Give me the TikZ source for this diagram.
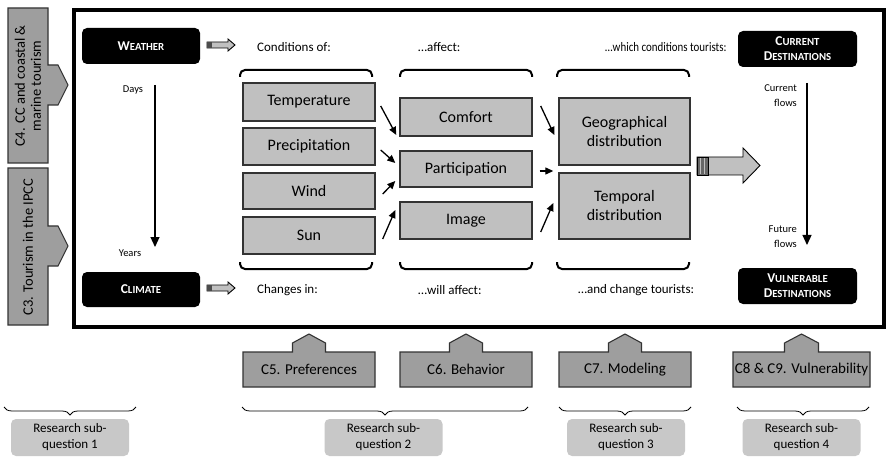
\documentclass[tikz,border=0pt]{standalone}
\usepackage{fontspec}
\setmainfont{Carlito}
\usetikzlibrary{arrows.meta,decorations.pathreplacing,calc}
\definecolor{boxgray}{HTML}{C0C0C0}
\definecolor{tabgray}{HTML}{9E9E9E}
\definecolor{resgray}{HTML}{C8C8C8}
\definecolor{edgegray}{HTML}{333333}
\newcommand\fsc[2]{{\fontsize{13.5}{15}\selectfont #1}{\fontsize{10.8}{15}\selectfont #2}}
\tikzset{
  cbox/.style={draw=edgegray, fill=boxgray, line width=1.4pt, inner sep=0pt, minimum width=132pt, align=center, font=\fontsize{16}{19}\selectfont},
  blackbox/.style={fill=black, rounded corners=5pt, inner sep=0pt, minimum width=118pt, minimum height=36pt, text=white, align=center, font=\bfseries\fontsize{10.8}{15}\selectfont},
  tabshape/.style={draw=edgegray, fill=tabgray, line width=1.1pt},
  tabtext/.style={inner sep=0pt, font=\fontsize{15}{17}\selectfont, align=center},
  resbox/.style={fill=resgray, rounded corners=5pt, inner sep=0pt, minimum width=118pt, minimum height=37pt, align=center, font=\fontsize{13}{16}\selectfont},
  lbl/.style={inner sep=0pt, anchor=west, font=\fontsize{13}{16}\selectfont},
  tiny/.style={inner sep=0pt, font=\fontsize{10.5}{15}\selectfont, align=right},
  sarrow/.style={line width=1.3pt, -{Triangle[length=8pt,width=7pt]}},
  longarrow/.style={line width=1.2pt, -{Triangle[length=10pt,width=9pt]}},
  colbracket/.style={line width=2pt, rounded corners=5pt},
  curly/.style={decorate, decoration={brace, amplitude=8pt, mirror}, line width=0.8pt},
  blockarrow/.style={fill=boxgray, draw=black, line width=0.9pt}
}
\begin{document}
\begin{tikzpicture}[x=1pt,y=-1pt]
\useasboundingbox (0,0) rectangle (886,457);
\fill[white] (0,0) rectangle (886,457);

% left tabs
\draw[tabshape] (8,8)--(48,8)--(48,65)--(58,65)--(68,85)--(58,105)--(48,105)--(48,163)--(8,163)--cycle;
\node[tabtext, rotate=90, font=\fontsize{14.5}{16}\selectfont] (c4) at (28,86) {C4. CC and coastal \&\\marine tourism};
\draw[tabshape] (8,168)--(48,168)--(48,226)--(58,226)--(68,246)--(58,266)--(48,266)--(48,325)--(8,325)--cycle;
\node[tabtext, rotate=90, font=\fontsize{14.5}{16}\selectfont] (c3) at (28,247) {C3. Tourism in the IPCC};

% main frame
\draw[line width=4pt] (74,10.5) rectangle (883.5,327);

% black boxes
\node[blackbox] (weather) at (141,46) {\fsc{W}{EATHER}};
\node[blackbox, minimum height=35pt] (climate) at (141,289.5) {\fsc{C}{LIMATE}};
\node[blackbox, minimum width=119pt] (current) at (797.5,49) {\fsc{C}{URRENT}\\\fsc{D}{ESTINATIONS}};
\node[blackbox, minimum width=119pt] (vuln) at (797.5,286) {\fsc{V}{ULNERABLE}\\\fsc{D}{ESTINATIONS}};

% block arrows weather/climate
\foreach \yy in {0,243}{
  \begin{scope}[yshift=-\yy pt]
  \draw[blockarrow] (207,42)--(228,42)--(228,39)--(235,45)--(228,51)--(228,48)--(207,48)--cycle;
  \fill[black!70] (207,42) rectangle (211.5,48);
  \end{scope}
}

% row labels
\node[lbl] (condof) at (257,47) {Conditions of:};
\node[lbl] (affect) at (418,47) {…affect:};
\node[lbl] (which) at (605,47) {\scalebox{0.84}[1]{…which conditions tourists:}};
\node[lbl] (changes) at (257,290) {Changes in:};
\node[lbl] (willaff) at (418,290) {…will affect:};
\node[lbl] (andchange) at (578,290) {…and change tourists:};

% days/years arrow
\coordinate (dtop) at (155,85);
\coordinate (dbot) at (155,247);
\draw[longarrow] (dtop) -- (dbot);
\node[tiny] (days) at (133,90) {Days};
\node[tiny] (years) at (130,253) {Years};

% flows arrow
\coordinate (ftop) at (807,83);
\coordinate (fbot) at (807,245);
\draw[longarrow] (ftop) -- (fbot);
\node[tiny, anchor=east] (curflows) at (797,95.5) {Current\\flows};
\node[tiny, anchor=east] (futflows) at (797,236.5) {Future\\flows};

% column brackets
\foreach \xa/\xb in {240/372, 400/532, 557/689}{
  \draw[colbracket] (\xa,77)--(\xa,70)--(\xb,70)--(\xb,77);
  \draw[colbracket] (\xa,262)--(\xa,269)--(\xb,269)--(\xb,262);
}

% column 1
\node[cbox, minimum height=38pt] (temp) at (309,102) {Temperature};
\node[cbox, minimum height=37pt] (prec) at (309,146.5) {Precipitation};
\node[cbox, minimum height=36pt] (wind) at (309,191) {Wind};
\node[cbox, minimum height=37pt] (sun) at (309,235.5) {Sun};
% column 2
\node[cbox, minimum height=38pt] (comfort) at (466,117) {Comfort};
\node[cbox, minimum height=36pt] (partic) at (466,169) {Participation};
\node[cbox, minimum height=37pt] (image) at (466,220.5) {Image};
% column 3
\node[cbox, minimum width=131pt, minimum height=67pt] (geo) at (624.5,131.5) {Geographical\\distribution};
\node[cbox, minimum width=131pt, minimum height=66pt] (tempo) at (624.5,206) {Temporal\\distribution};

% small arrows
\draw[sarrow] ($(temp.east)+(5,4)$) -- ($(comfort.west)+(-3,18)$);
\draw[sarrow] ($(prec.east)+(5,3.5)$) -- ($(partic.west)+(-4,-6)$);
\draw[sarrow] ($(wind.east)+(7,3)$) -- ($(partic.west)+(-4,12)$);
\draw[sarrow] ($(sun.east)+(7,3.5)$) -- ($(image.west)+(-4,-10.5)$);
\draw[sarrow] ($(comfort.east)+(8,-11)$) -- ($(geo.west)+(-4,3.5)$);
\draw[sarrow] ($(partic.east)+(7,2)$) -- ($(tempo.west)+(-5,-35)$);
\draw[sarrow] ($(image.east)+(8,11.5)$) -- ($(tempo.west)+(-5,-3)$);

% big block arrow
\draw[blockarrow] (697,157)--(743,157)--(743,148)--(760,165.5)--(743,183)--(743,175)--(697,175)--cycle;
\fill[black!60] (697,157) rectangle (708,175);
\draw[black!25, line width=1pt] (700.5,157.5)--(700.5,174.5) (704.5,157.5)--(704.5,174.5);
\draw[black, line width=0.9pt] (697,157) rectangle (708,175);

% bottom tabs
\draw[tabshape] (243,387)--(243,352)--(292.5,352)--(292.5,343)--(309,334)--(325.5,343)--(325.5,352)--(375,352)--(375,387)--cycle;
\node[tabtext] (c5) at (309,369.5) {C5. Preferences};
\draw[tabshape] (400,387)--(400,352)--(449.5,352)--(449.5,343)--(466,334)--(482.5,343)--(482.5,352)--(532,352)--(532,387)--cycle;
\node[tabtext] (c6) at (466,369.5) {C6. Behavior};
\draw[tabshape] (559,387)--(559,352)--(608.5,352)--(608.5,343)--(625,334)--(641.5,343)--(641.5,352)--(691,352)--(691,387)--cycle;
\node[tabtext] (c7) at (625,369.5) {C7. Modeling};
\draw[tabshape] (733,387)--(733,352)--(784.5,352)--(784.5,343)--(801.5,334)--(818.5,343)--(818.5,352)--(870,352)--(870,387)--cycle;
\node[tabtext] (c8) at (801.5,369.5) {C8 \& C9. Vulnerability};

% braces
\coordinate (b1a) at (4,407);   \coordinate (b1b) at (136,407);
\coordinate (b2a) at (242,407); \coordinate (b2b) at (528,407);
\coordinate (b3a) at (559,407); \coordinate (b3b) at (691,407);
\coordinate (b4a) at (737,407); \coordinate (b4b) at (869,407);
\draw[curly] (b1a) -- (b1b);
\draw[curly] (b2a) -- (b2b);
\draw[curly] (b3a) -- (b3b);
\draw[curly] (b4a) -- (b4b);

% research boxes
\node[resbox] (rq1) at (70,437.5) {Research sub-\\question 1};
\node[resbox] (rq2) at (383.5,437.5) {Research sub-\\question 2};
\node[resbox] (rq3) at (626,437.5) {Research sub-\\question 3};
\node[resbox] (rq4) at (801.5,437.5) {Research sub-\\question 4};
\end{tikzpicture}
\end{document}
